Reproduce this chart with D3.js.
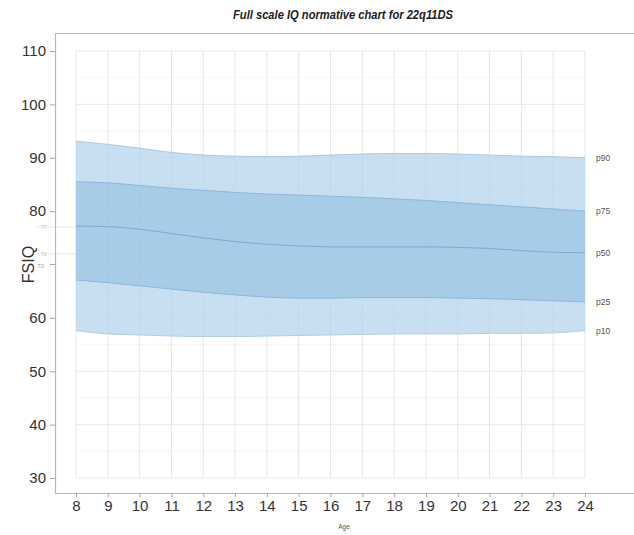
<!DOCTYPE html>
<html>
<head>
<meta charset="utf-8">
<script src="https://cdn.jsdelivr.net/npm/d3@7"></script>
<style>
  html, body { margin: 0; padding: 0; background: #fff; }
  svg { display: block; font-family: "Liberation Sans", Arial, sans-serif; }
</style>
</head>
<body>
<svg id="chart" width="634" height="535"></svg>
<script>
const ages = [8, 9, 10, 11, 12, 13, 14, 15, 16, 17, 18, 19, 20, 21, 22, 23, 24];
const p10 = [57.6, 57.0, 56.8, 56.6, 56.5, 56.5, 56.6, 56.7, 56.8, 56.9, 57.0, 57.0, 57.0, 57.1, 57.1, 57.2, 57.6];
const p25 = [67.1, 66.6, 66.0, 65.4, 64.8, 64.3, 63.9, 63.7, 63.7, 63.8, 63.8, 63.8, 63.7, 63.6, 63.4, 63.2, 63.0];
const p50 = [77.2, 77.1, 76.6, 75.8, 75.0, 74.3, 73.8, 73.5, 73.3, 73.3, 73.3, 73.3, 73.2, 73.0, 72.6, 72.3, 72.2];
const p75 = [85.5, 85.3, 84.8, 84.3, 83.9, 83.5, 83.2, 83.0, 82.8, 82.6, 82.3, 82.0, 81.6, 81.2, 80.8, 80.4, 80.0];
const p90 = [93.1, 92.5, 91.8, 91.0, 90.5, 90.3, 90.2, 90.3, 90.5, 90.7, 90.8, 90.8, 90.7, 90.5, 90.3, 90.2, 90.0];
const yTicks = [30, 40, 50, 60, 80, 90, 100, 110];
const centileLabels = ["p90", "p75", "p50", "p25", "p10"];
const title = "Full scale IQ normative chart for 22q11DS";

const svg = d3.select("#chart");
const x = d3.scaleLinear().domain([8, 24]).range([76, 585]);
const y = d3.scaleLinear().domain([30, 110]).range([478, 51]);

// panel border (left, top, bottom)
svg.append("path")
  .attr("d", "M640,33.5 H55.5 V493.5 H640")
  .attr("fill", "none").attr("stroke", "#b8b8b8").attr("stroke-width", 1.2);

// grid
const grid = svg.append("g");
d3.range(35, 110, 10).forEach(v => {
  grid.append("line").attr("x1", x(8)).attr("x2", x(24)).attr("y1", y(v)).attr("y2", y(v))
    .attr("stroke", "#f4f4f4").attr("stroke-width", 0.8);
});
d3.range(30, 111, 10).forEach(v => {
  grid.append("line").attr("x1", x(8)).attr("x2", x(24)).attr("y1", y(v)).attr("y2", y(v))
    .attr("stroke", "#ebebeb").attr("stroke-width", 1);
});
ages.forEach(a => {
  grid.append("line").attr("x1", x(a)).attr("x2", x(a)).attr("y1", y(30)).attr("y2", y(110))
    .attr("stroke", "#e6e6e6").attr("stroke-width", 1);
});

const data = ages.map((a, i) => ({a, p10: p10[i], p25: p25[i], p50: p50[i], p75: p75[i], p90: p90[i]}));
const curve = d3.curveMonotoneX;

const area = (lo, hi) => d3.area().x(d => x(d.a)).y0(d => y(d[lo])).y1(d => y(d[hi])).curve(curve);
svg.append("path").attr("d", area("p10", "p90")(data))
  .attr("fill", "#b3d2ec").attr("fill-opacity", 0.72);
svg.append("path").attr("d", area("p25", "p75")(data))
  .attr("fill", "#8dbbe0").attr("fill-opacity", 0.55);

const line = key => d3.line().x(d => x(d.a)).y(d => y(d[key])).curve(curve);
[["p90", "#a9c9e4"], ["p75", "#8fb6da"], ["p50", "#7ea8cf"], ["p25", "#8fb6da"], ["p10", "#b0cde6"]].forEach(([k, c]) => {
  svg.append("path").attr("d", line(k)(data)).attr("fill", "none").attr("stroke", c).attr("stroke-width", 1);
});

// faint annotation ghosts
[[77, "77"], [72, "72"]].forEach(([v, t]) => {
  svg.append("line").attr("x1", 36).attr("x2", x(8)).attr("y1", y(v)).attr("y2", y(v))
    .attr("stroke", "#c8c8c8").attr("stroke-width", 0.7).attr("opacity", 0.6);
  svg.append("text").attr("x", 41).attr("y", y(v) + 2).attr("font-size", 5).attr("fill", "#c0c0c0").text(t);
});

// centile labels
centileLabels.forEach(k => {
  svg.append("text").attr("x", 596).attr("y", y(data[data.length - 1][k]) + 3)
    .attr("font-size", 8.5).attr("fill", "#555").text(k);
});

// y axis
const yAxis = d3.axisLeft(y).tickValues(yTicks).tickSize(5).tickPadding(4);
const gy = svg.append("g").attr("transform", "translate(55,0)").call(yAxis);
gy.select(".domain").remove();
gy.selectAll(".tick line").attr("stroke", "#aaa");
gy.selectAll(".tick text").attr("font-size", 15).attr("fill", "#333")
  .attr("font-family", "Liberation Sans, Arial, sans-serif");
svg.append("text").attr("x", 44).attr("y", y(70) + 3).attr("text-anchor", "end")
  .attr("font-size", 6).attr("fill", "#999").text("70");
svg.append("line").attr("x1", 50).attr("x2", 55).attr("y1", y(70)).attr("y2", y(70)).attr("stroke", "#aaa");

// x axis
const xAxis = d3.axisBottom(x).tickValues(ages).tickSize(4).tickPadding(3).tickFormat(d3.format("d"));
const gx = svg.append("g").attr("transform", "translate(0,493)").call(xAxis);
gx.select(".domain").remove();
gx.selectAll(".tick line").attr("stroke", "#aaa");
gx.selectAll(".tick text").attr("font-size", 15).attr("fill", "#333")
  .attr("font-family", "Liberation Sans, Arial, sans-serif");

// titles
svg.append("text").attr("x", 343).attr("y", 19).attr("text-anchor", "middle")
  .attr("font-size", 13).attr("font-weight", "bold").attr("font-style", "italic").attr("fill", "#222")
  .attr("textLength", 220).attr("lengthAdjust", "spacingAndGlyphs").text(title);
svg.append("text").attr("transform", `translate(34,${y(70)}) rotate(-90)`).attr("text-anchor", "middle")
  .attr("font-size", 16).attr("fill", "#333").text("FSIQ");
svg.append("text").attr("x", 344).attr("y", 529).attr("text-anchor", "middle")
  .attr("font-size", 6.5).attr("fill", "#555").text("Age");
</script>
</body>
</html>
